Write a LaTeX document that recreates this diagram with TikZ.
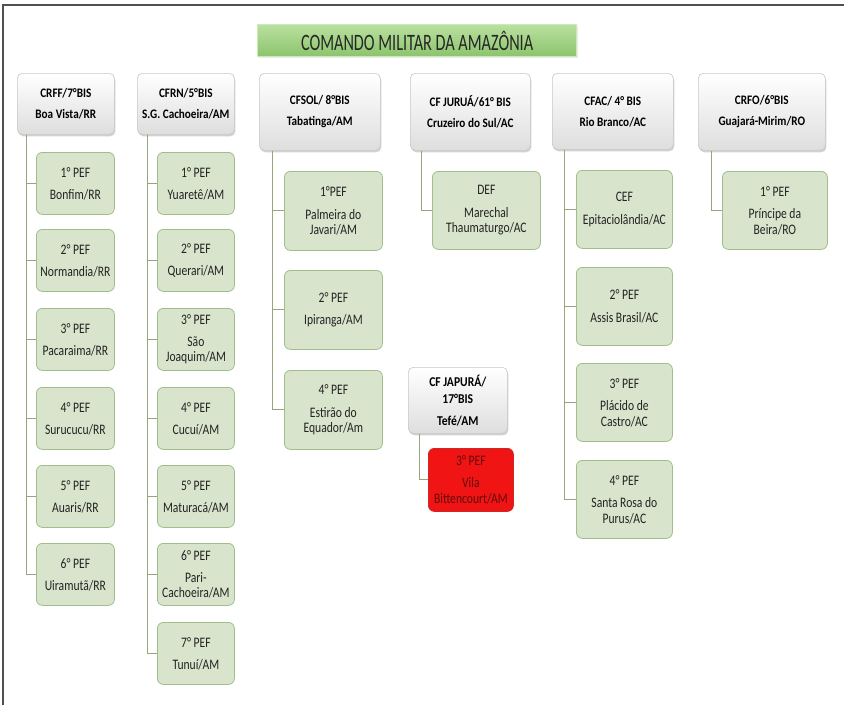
\documentclass[tikz,border=0pt]{standalone}
\usepackage{fontspec}
\setmainfont{Carlito}
\newfontfamily\titlefont[FakeStretch=0.69]{Carlito}
\newfontfamily\childfont[FakeStretch=0.8]{Carlito}
\newfontfamily\hdrfont[FakeStretch=0.86]{Carlito}
\usetikzlibrary{shadows}
\definecolor{childfill}{RGB}{216,228,204}
\definecolor{childdraw}{RGB}{160,190,140}
\definecolor{conncol}{RGB}{150,165,125}
\definecolor{hdrdraw}{RGB}{200,200,200}
\definecolor{hdrbot}{RGB}{222,222,222}
\definecolor{framecol}{RGB}{80,80,80}
\definecolor{titletop}{RGB}{185,224,160}
\definecolor{titlebot}{RGB}{140,196,108}
\definecolor{titledraw}{RGB}{205,232,185}
\definecolor{redfill}{RGB}{240,20,20}
\definecolor{reddraw}{RGB}{205,40,40}
\definecolor{redtext}{RGB}{100,10,10}
\definecolor{txt}{RGB}{35,35,35}
\begin{document}
\begin{tikzpicture}[x=1pt,y=-1pt,
  box/.style={anchor=north west, inner sep=2pt, align=center, rounded corners=6pt},
  child/.style={box, fill=childfill, draw=childdraw, line width=0.8pt, text=txt,
    font=\childfont\fontsize{14.5}{15.5}\selectfont},
  redbox/.style={box, fill=redfill, draw=reddraw, line width=0.8pt, text=redtext,
    font=\childfont\fontsize{14.5}{15.5}\selectfont},
  hdr/.style={box, rounded corners=5pt, top color=white, bottom color=hdrbot, draw=hdrdraw,
    line width=0.6pt, font=\hdrfont\bfseries\fontsize{13}{16}\selectfont,
    drop shadow={shadow xshift=1pt, shadow yshift=-2pt, fill=black!35, opacity=0.5}},
  conn/.style={draw=conncol, line width=0.9pt},
]
\useasboundingbox (0,0) rectangle (844,705);
\draw[framecol, line width=2pt] (3,705) -- (3,5) -- (844,5);

% title
\node[anchor=north west, minimum width=319pt, minimum height=32pt, top color=titletop,
  bottom color=titlebot, draw=titledraw, line width=1.2pt, text=black!85,
  font=\titlefont\fontsize{23.5}{23.5}\selectfont,
  drop shadow={shadow xshift=1pt, shadow yshift=-1pt, fill=black!20, opacity=0.4}]
  (title) at (257,24) {COMANDO MILITAR DA AMAZÔNIA};

% headers
\node[hdr, minimum width=97pt, minimum height=61pt] (h1) at (17,73) {CRFF/7°BIS\\[5pt]Boa Vista/RR};
\node[hdr, minimum width=97pt, minimum height=61pt] (h2) at (137,73) {CFRN/5°BIS\\[5pt]S.G. Cachoeira/AM};
\node[hdr, minimum width=121pt, minimum height=77pt] (h3) at (259,73) {CFSOL/ 8°BIS\\[5pt]Tabatinga/AM};
\node[hdr, minimum width=120pt, minimum height=77pt] (h4) at (410,73) {CF JURUÁ/61° BIS\\[5pt]Cruzeiro do Sul/AC};
\node[hdr, minimum width=121pt, minimum height=76pt] (h5) at (552,73) {CFAC/ 4° BIS\\[5pt]Rio Branco/AC};
\node[hdr, minimum width=127pt, minimum height=77pt] (h6) at (698,73) {CRFO/6°BIS\\[5pt]Guajará-Mirim/RO};
\node[hdr, minimum width=99pt, minimum height=66pt, font=\hdrfont\bfseries\fontsize{13.5}{17}\selectfont] (h7) at (408,367) {CF JAPURÁ/\\17°BIS\\[5pt]Tefé/AM};

% column 1
\node[child, minimum width=78pt, minimum height=62pt] (c11) at (36,152) {1° PEF\\[6.5pt]Bonfim/RR};
\node[child, minimum width=78pt, minimum height=62pt] (c12) at (36,229) {2° PEF\\[6.5pt]Normandia/RR};
\node[child, minimum width=78pt, minimum height=62pt] (c13) at (36,308) {3° PEF\\[6.5pt]Pacaraima/RR};
\node[child, minimum width=78pt, minimum height=62pt] (c14) at (36,387) {4° PEF\\[6.5pt]Surucucu/RR};
\node[child, minimum width=78pt, minimum height=62pt] (c15) at (36,465) {5° PEF\\[6.5pt]Auaris/RR};
\node[child, minimum width=78pt, minimum height=62pt] (c16) at (36,543) {6° PEF\\[6.5pt]Uiramutã/RR};

% column 2
\node[child, minimum width=77pt, minimum height=62pt] (c21) at (157,152) {1° PEF\\[6.5pt]Yuaretê/AM};
\node[child, minimum width=77pt, minimum height=62pt] (c22) at (157,229) {2° PEF\\[6.5pt]Querari/AM};
\node[child, minimum width=77pt, minimum height=62pt] (c23) at (157,308) {3° PEF\\[6.5pt]São\\Joaquim/AM};
\node[child, minimum width=77pt, minimum height=62pt] (c24) at (157,387) {4° PEF\\[6.5pt]Cucuí/AM};
\node[child, minimum width=77pt, minimum height=62pt] (c25) at (157,465) {5° PEF\\[6.5pt]Maturacá/AM};
\node[child, minimum width=77pt, minimum height=62pt] (c26) at (157,543) {6° PEF\\[6.5pt]Pari-\\Cachoeira/AM};
\node[child, minimum width=77pt, minimum height=62pt] (c27) at (157,622) {7° PEF\\[6.5pt]Tunuí/AM};

% column 3
\node[child, minimum width=98pt, minimum height=79pt] (c31) at (284,171) {1°PEF\\[7pt]Palmeira do\\Javari/AM};
\node[child, minimum width=98pt, minimum height=79pt] (c32) at (284,270) {2° PEF\\[7pt]Ipiranga/AM};
\node[child, minimum width=98pt, minimum height=79pt] (c33) at (284,370) {4° PEF\\[7pt]Estirão do\\Equador/Am};

% column 4
\node[child, minimum width=108pt, minimum height=78pt] (c41) at (432,171) {DEF\\[7pt]Marechal\\Thaumaturgo/AC};

% column 5
\node[child, minimum width=96pt, minimum height=78pt] (c51) at (576,170) {CEF\\[7pt]Epitaciolândia/AC};
\node[child, minimum width=96pt, minimum height=78pt] (c52) at (576,267) {2° PEF\\[7pt]Assis Brasil/AC};
\node[child, minimum width=96pt, minimum height=78pt] (c53) at (576,363) {3° PEF\\[7pt]Plácido de\\Castro/AC};
\node[child, minimum width=96pt, minimum height=78pt] (c54) at (576,460) {4° PEF\\[7pt]Santa Rosa do\\Purus/AC};

% column 6
\node[child, minimum width=105pt, minimum height=78pt] (c61) at (722,171) {1° PEF\\[7pt]Príncipe da\\Beira/RO};

% Japurá child
\node[redbox, minimum width=85pt, minimum height=63pt] (c71) at (428,448) {3° PEF\\[6.5pt]Vila\\Bittencourt/AM};

% connectors
\coordinate (t1) at ([xshift=9pt]h1.south west);
\coordinate (t2) at ([xshift=10pt]h2.south west);
\coordinate (t3) at ([xshift=13pt]h3.south west);
\coordinate (t4) at ([xshift=11pt]h4.south west);
\coordinate (t5) at ([xshift=12pt]h5.south west);
\coordinate (t6) at ([xshift=13pt]h6.south west);
\coordinate (t7) at ([xshift=11pt]h7.south west);
\foreach \c in {c11,c12,c13,c14,c15,c16} \draw[conn] (t1) |- (\c.west);
\foreach \c in {c21,c22,c23,c24,c25,c26,c27} \draw[conn] (t2) |- (\c.west);
\foreach \c in {c31,c32,c33} \draw[conn] (t3) |- (\c.west);
\draw[conn] (t4) |- (c41.west);
\foreach \c in {c51,c52,c53,c54} \draw[conn] (t5) |- (\c.west);
\draw[conn] (t6) |- (c61.west);
\draw[conn] (t7) |- (c71.west);
\end{tikzpicture}
\end{document}
